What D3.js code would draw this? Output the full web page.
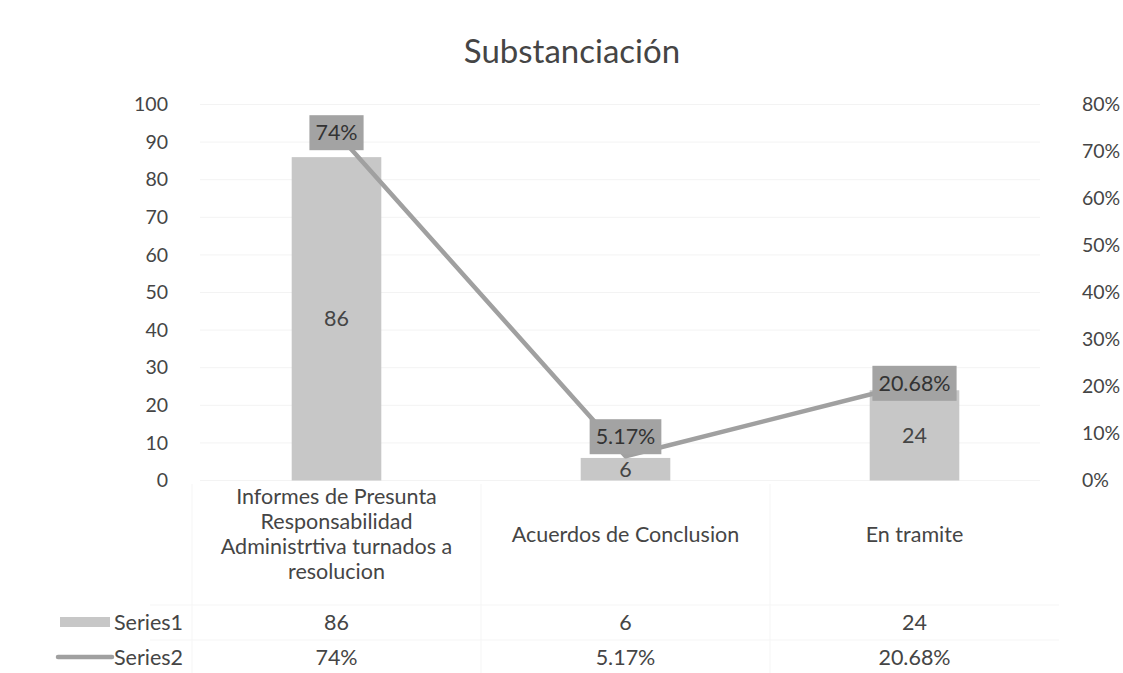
<!DOCTYPE html>
<html><head><meta charset="utf-8">
<script src="https://cdn.jsdelivr.net/npm/d3@7"></script>
<style>html,body{margin:0;padding:0;background:#fff}svg{display:block}</style>
</head><body>
<svg id="c" width="1123" height="673"></svg>
<script>
const title = "Substanciación";
const categories = ["Informes de Presunta Responsabilidad Administrtiva turnados a resolucion", "Acuerdos de Conclusion", "En tramite"];
const series1 = [86, 6, 24];
const series2 = [0.74, 0.0517, 0.2068];
const series2Labels = ["74%", "5.17%", "20.68%"];
const seriesNames = ["Series1", "Series2"];
const leftTicks = [0,10,20,30,40,50,60,70,80,90,100];
const rightTicks = [0,0.1,0.2,0.3,0.4,0.5,0.6,0.7,0.8];

const FONT = "Lato, 'Open Sans', sans-serif";
const TXT = "#454545";
const BAR = "#c7c7c7";
const LINE = "#a0a0a0";
const BOX = "#a3a3a3";
const FS = 21.5;

const svg = d3.select("#c");
const x = d3.scaleBand().domain(categories).range([192, 1059]).padding(0);
const yL = d3.scaleLinear().domain([0, 100]).range([480.5, 104.5]);
const yR = d3.scaleLinear().domain([0, 0.8]).range([480.5, 104.5]);
const cx = c => x(c) + x.bandwidth() / 2;
const barW = x.bandwidth() * 0.31;

// title
svg.append("text").attr("x", 572).attr("y", 63).attr("text-anchor", "middle")
  .attr("font-family", FONT).attr("font-size", 33).attr("fill", TXT).text(title);

// gridlines
svg.append("g").selectAll("line").data(leftTicks).join("line")
  .attr("x1", 200).attr("x2", 1040).attr("y1", d => yL(d)).attr("y2", d => yL(d))
  .attr("stroke", "#f3f3f3").attr("stroke-width", 1);

// left axis
const gL = svg.append("g").attr("transform", "translate(176,0)")
  .call(d3.axisLeft(yL).tickValues(leftTicks).tickSize(0).tickPadding(8).tickFormat(d3.format("d")));
gL.select(".domain").remove();
gL.selectAll("text").attr("font-family", FONT).attr("font-size", 19.5).attr("fill", TXT);

// right axis
const gR = svg.append("g").attr("transform", "translate(1074,0)")
  .call(d3.axisRight(yR).tickValues(rightTicks).tickSize(0).tickPadding(8).tickFormat(d3.format(".0%")));
gR.select(".domain").remove();
gR.selectAll("text").attr("font-family", FONT).attr("font-size", 19.5).attr("fill", TXT);

// bars
svg.append("g").selectAll("rect").data(categories).join("rect")
  .attr("x", c => cx(c) - barW / 2).attr("width", barW)
  .attr("y", (c, i) => yL(series1[i])).attr("height", (c, i) => yL(0) - yL(series1[i]))
  .attr("fill", BAR);

// bar labels (centered)
const barLabelY = categories.map((c, i) => (yL(series1[i]) + yL(0)) / 2);
svg.append("g").selectAll("text").data(categories).join("text")
  .attr("x", cx).attr("y", (c, i) => barLabelY[i]).attr("dy", "0.35em")
  .attr("text-anchor", "middle").attr("font-family", FONT).attr("font-size", FS).attr("fill", TXT)
  .text((c, i) => series1[i]);

// line
const line = d3.line().x((d, i) => cx(categories[i])).y(d => yR(d));
svg.append("path").datum(series2).attr("d", line).attr("fill", "none")
  .attr("stroke", LINE).attr("stroke-width", 4.5).attr("stroke-linejoin", "round");

// line labels (boxes)
const lg = svg.append("g");
series2.forEach((v, i) => {
  const px = cx(categories[i]);
  const py = yR(v);
  const boxH = 35;
  const t = lg.append("text").attr("font-family", FONT).attr("font-size", FS).attr("fill", "#333")
    .attr("text-anchor", "middle").text(series2Labels[i]);
  const w = t.node().getComputedTextLength() + 12;
  const bottom = Math.min(py + boxH / 2, barLabelY[i] - 15);
  const top = bottom - boxH;
  lg.insert("rect", "text").attr("x", px - w / 2).attr("y", top).attr("width", w).attr("height", boxH).attr("fill", BOX);
  t.attr("x", px).attr("y", top + boxH / 2).attr("dy", "0.35em");
});

// category labels with wrapping
const catG = svg.append("g");
categories.forEach(c => {
  const words = c.split(" ");
  const lines = [];
  const tmp = catG.append("text").attr("font-family", FONT).attr("font-size", FS);
  let cur = "";
  words.forEach(w => {
    const test = cur ? cur + " " + w : w;
    tmp.text(test);
    if (tmp.node().getComputedTextLength() > 260 && cur) { lines.push(cur); cur = w; } else cur = test;
  });
  lines.push(cur);
  tmp.remove();
  const lh = 24.7;
  const mid = 534;
  const t = catG.append("text").attr("font-family", FONT).attr("font-size", FS).attr("fill", TXT)
    .attr("text-anchor", "middle");
  lines.forEach((l, k) => {
    t.append("tspan").attr("x", cx(c)).attr("y", mid + (k - (lines.length - 1) / 2) * lh).attr("dy", "0.35em").text(l);
  });
});

// data table faint grid
const tg = svg.append("g").attr("stroke", "#f5f5f5").attr("stroke-width", 1);
[192, 481, 770].forEach(v => tg.append("line").attr("x1", v).attr("x2", v).attr("y1", 484).attr("y2", 673));
[605, 640].forEach(v => tg.append("line").attr("x1", 150).attr("x2", 1059).attr("y1", v).attr("y2", v));

// data table rows
const rowsY = [622, 657];
// legend keys
svg.append("rect").attr("x", 60).attr("y", rowsY[0] - 5).attr("width", 50).attr("height", 10).attr("fill", BAR);
svg.append("line").attr("x1", 58).attr("x2", 112).attr("y1", rowsY[1]).attr("y2", rowsY[1])
  .attr("stroke", LINE).attr("stroke-width", 4.5).attr("stroke-linecap", "round");
seriesNames.forEach((s, k) => {
  svg.append("text").attr("x", 114).attr("y", rowsY[k]).attr("dy", "0.35em")
    .attr("font-family", FONT).attr("font-size", FS).attr("fill", TXT).text(s);
});
svg.append("g").selectAll("text").data(categories).join("text")
  .attr("x", cx).attr("y", rowsY[0]).attr("dy", "0.35em").attr("text-anchor", "middle")
  .attr("font-family", FONT).attr("font-size", FS).attr("fill", TXT).text((c, i) => series1[i]);
svg.append("g").selectAll("text").data(categories).join("text")
  .attr("x", cx).attr("y", rowsY[1]).attr("dy", "0.35em").attr("text-anchor", "middle")
  .attr("font-family", FONT).attr("font-size", FS).attr("fill", TXT).text((c, i) => series2Labels[i]);
</script>
</body></html>
